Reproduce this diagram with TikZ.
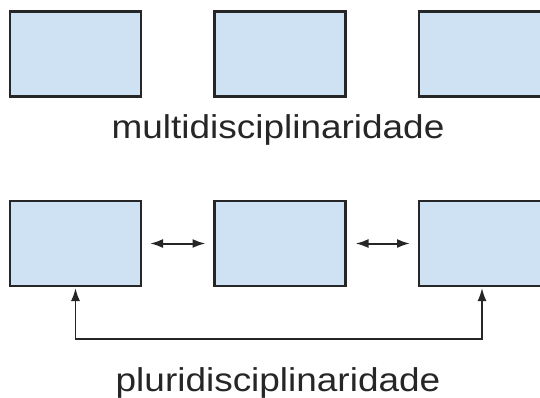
\documentclass[tikz,border=0pt]{standalone}
\usepackage{fontspec}
\setmainfont{Liberation Sans}
\newfontfamily\captionfont[FakeStretch=1.12]{Liberation Sans}
\usetikzlibrary{arrows.meta}
\begin{document}
\begin{tikzpicture}[x=1pt,y=1pt,
  box/.style={draw=black!85, line width=2.4pt, fill=boxblue, minimum width=131pt, minimum height=85pt, inner sep=0pt, outer sep=0pt},
  link/.style={line width=2pt, black!85, {Latex[length=13pt,width=9pt]}-{Latex[length=13pt,width=9pt]}},
  caption/.style={anchor=base, font=\captionfont\fontsize{33}{38}\selectfont, text=black!85, inner sep=0pt}]
\definecolor{boxblue}{HTML}{CFE2F3}
\useasboundingbox (0,0) rectangle (540,-397);
\begin{scope}
\clip (0,0) rectangle (540,-397);
% multidisciplinary row
\node[box] (m1) at (75.5,-54) {};
\node[box] (m2) at (280,-54) {};
\node[box] (m3) at (484.5,-54) {};
\node[caption] (mtxt) at (278,-138) {multidisciplinaridade};
% pluridisciplinary row
\node[box] (p1) at (75.5,-243.5) {};
\node[box] (p2) at (280,-243.5) {};
\node[box] (p3) at (484.5,-243.5) {};
\draw[link, shorten <=9pt, shorten >=9pt] (p1.east) -- (p2.west);
\draw[link, shorten <=10pt, shorten >=9pt] (p2.east) -- (p3.west);
\coordinate (lowL) at (75.5,-339);
\coordinate (lowR) at (482,-339);
\draw[link, line width=1.7pt, shorten <=2pt, shorten >=2pt] (p1.south) -- (lowL) -- (lowR) -- (lowR |- p3.south);
\node[caption] (ptxt) at (278,-391) {pluridisciplinaridade};
\end{scope}
\end{tikzpicture}
\end{document}
